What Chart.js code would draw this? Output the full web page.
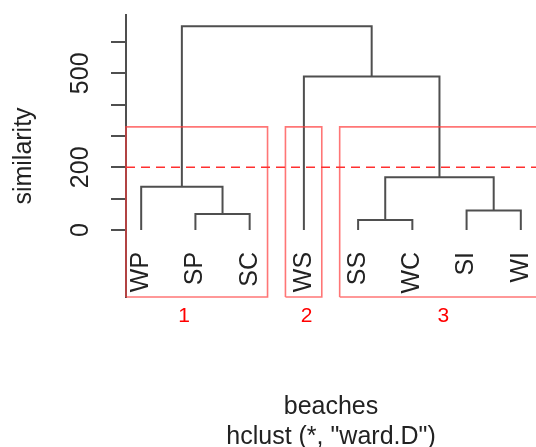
<!DOCTYPE html>
<html>
<head>
<meta charset="utf-8">
<script src="https://cdn.jsdelivr.net/npm/chart.js@4.4.1/dist/chart.umd.min.js"></script>
<style>
  html, body { margin: 0; padding: 0; background: #fff; }
  #wrap { width: 536px; height: 447px; }
</style>
</head>
<body>
<div id="wrap"><canvas id="dendro" width="536" height="447"></canvas></div>
<script>
// Leaves in plotting order
const leafLabels = ['WP', 'SP', 'SC', 'WS', 'SS', 'WC', 'SI', 'WI'];

// hclust style merges: negative = leaf number, positive = earlier merge
const mergeLeft = [-5, -2, -7, -1, 1, -4, 4];
const mergeRight = [-6, -3, -8, 2, 3, 5, 6];
const mergeHeight = [32, 51, 62, 138, 168, 490, 650];

// y axis
const yTickValues = [0, 100, 200, 300, 400, 500, 600];
const yTickLabels = ['0', '', '200', '', '', '500', ''];

// cut into 3 groups
const clusterSizes = [3, 1, 4];
const clusterNames = ['1', '2', '3'];
const clusterNamePos = [1.79, 4.05, 6.57];
const cutHeight = 200;

const TEXT = '#222';
const LINE = '#4f4f4f';
const RED = '#ff3030';
const FONT = "'Liberation Sans', Arial, sans-serif";

// plot range, like R's usr with 4% padding on x
const nLeaves = leafLabels.length;
const xMin = 1 - 0.04 * (nLeaves - 1);
const xMax = nLeaves + 0.04 * (nLeaves - 1);
const yMin = -214;
const yMax = 686;

// build dendrogram segments
const nodeX = [];
const nodeY = [];
const segments = [];
function childPos(id) {
    return id < 0 ? [-id, 0] : [nodeX[id - 1], nodeY[id - 1]];
}
mergeHeight.forEach((h, i) => {
    const [xl, yl] = childPos(mergeLeft[i]);
    const [xr, yr] = childPos(mergeRight[i]);
    nodeX.push((xl + xr) / 2);
    nodeY.push(h);
    segments.push([{ x: xl, y: yl }, { x: xl, y: h }, { x: xr, y: h }, { x: xr, y: yr }]);
});

// rect.hclust: top between the (k-1)th and kth highest merge
const sortedH = [...mergeHeight].sort((a, b) => b - a);
const k = clusterSizes.length;
const rectTop = (sortedH[k - 2] + sortedH[k - 1]) / 2;

const datasets = [];

// cut line
datasets.push({
    data: [{ x: xMin, y: cutHeight }, { x: xMax, y: cutHeight }],
    borderColor: RED,
    borderWidth: 1.6,
    borderDash: [9, 6]
});

// cluster boxes
let start = 0;
clusterSizes.forEach(n => {
    const x0 = Math.max(start + 0.66, xMin);
    const x1 = start + n + 0.33;
    datasets.push({
        data: [
            { x: x0, y: yMin }, { x: x0, y: rectTop }, { x: x1, y: rectTop },
            { x: x1, y: yMin }, { x: x0, y: yMin }
        ],
        borderColor: 'rgba(255, 60, 60, 0.7)',
        borderWidth: 1.6,
        clip: 3
    });
    start += n;
});

// dendrogram
segments.forEach(seg => {
    datasets.push({
        data: seg,
        borderColor: LINE,
        borderWidth: 2
    });
});

datasets.forEach(ds => {
    ds.pointRadius = 0;
    ds.fill = false;
    ds.tension = 0;
});

// red group numbers under the boxes
const groupNumbers = {
    id: 'groupNumbers',
    afterDatasetsDraw(chart) {
        const { ctx, scales: { x, y } } = chart;
        ctx.save();
        ctx.fillStyle = '#ff0000';
        ctx.font = '21px ' + FONT;
        ctx.textAlign = 'center';
        ctx.textBaseline = 'middle';
        clusterNames.forEach((name, i) => {
            ctx.fillText(name, x.getPixelForValue(clusterNamePos[i]), y.getPixelForValue(-274));
        });
        ctx.restore();
    }
};

Chart.defaults.font.family = FONT;
Chart.defaults.color = TEXT;

new Chart(document.getElementById('dendro'), {
    type: 'line',
    data: { datasets },
    options: {
        responsive: false,
        animation: false,
        events: [],
        layout: { padding: { top: 15, left: 0, right: 0, bottom: 0 } },
        plugins: {
            legend: { display: false },
            tooltip: { enabled: false },
            title: {
                display: true,
                position: 'bottom',
                fullSize: false,
                text: ['beaches', 'hclust (*, "ward.D")'],
                color: TEXT,
                font: { size: 25, weight: 'normal', lineHeight: 1.2 },
                padding: { top: 95, bottom: -5 }
            }
        },
        scales: {
            x: {
                type: 'linear',
                min: xMin,
                max: xMax,
                position: { y: 0 },
                grid: { display: false, drawTicks: false },
                border: { display: false },
                afterBuildTicks: s => { s.ticks = leafLabels.map((_, i) => ({ value: i + 1 })); },
                afterFit: s => { s.paddingLeft = 0; s.paddingRight = 0; },
                ticks: {
                    autoSkip: false,
                    minRotation: 90,
                    maxRotation: 90,
                    padding: 22,
                    color: TEXT,
                    font: { size: 25 },
                    callback: v => leafLabels[v - 1] || ''
                }
            },
            y: {
                type: 'linear',
                min: yMin,
                max: yMax,
                afterBuildTicks: s => { s.ticks = yTickValues.map(v => ({ value: v })); },
                afterFit: s => { s.width = 126; s.paddingTop = 0; s.paddingBottom = 0; },
                grid: {
                    drawOnChartArea: false,
                    drawTicks: true,
                    tickLength: 15,
                    color: LINE,
                    lineWidth: 2
                },
                border: { display: true, color: LINE, width: 2 },
                ticks: {
                    autoSkip: false,
                    minRotation: 90,
                    maxRotation: 90,
                    crossAlign: 'center',
                    padding: 9,
                    color: TEXT,
                    font: { size: 25 },
                    callback: v => yTickLabels[yTickValues.indexOf(v)] || ''
                },
                title: {
                    display: true,
                    text: 'similarity',
                    color: TEXT,
                    font: { size: 25 },
                    padding: { top: 9, bottom: 0 }
                }
            }
        }
    },
    plugins: [groupNumbers]
});
</script>
</body>
</html>
